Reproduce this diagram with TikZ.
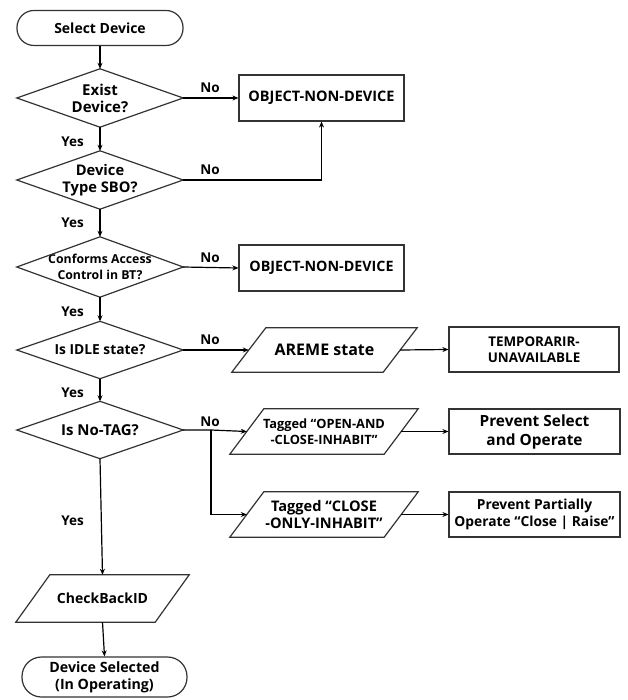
\documentclass[tikz,border=0pt]{standalone}
\usepackage{fontspec}
\setmainfont{Open Sans}
\usetikzlibrary{arrows.meta}

% outline of a decision node: a diamond through the node's four side anchors
\newcommand\diamondpath[1]{\draw[shp] (#1.north) -- (#1.east) -- (#1.south) -- (#1.west) -- cycle;}
% outline of a data node: a parallelogram leaning to the right
\newcommand\parapath[1]{\draw[shp] ([xshift=34pt]#1.north west) -- (#1.north east) -- ([xshift=-34pt]#1.south east) -- (#1.south west) -- cycle;}
\newcommand\fs[2]{\fontsize{#1}{#2}\selectfont}

\begin{document}
\begin{tikzpicture}[x=1pt,y=-1pt,
  every node/.style={font=\bfseries, align=center, inner sep=0pt},
  line/.style={line width=1.2pt, draw=black},
  arr/.style={line, -{Stealth[length=6pt,width=5pt]}},
  shp/.style={line width=1.2pt, draw=black!80},
  term/.style={shp, draw, minimum width=166pt},
  dec/.style={minimum width=166pt, minimum height=58pt},
  procbox/.style={shp, draw, minimum width=165pt, minimum height=46pt},
  outbox/.style={shp, draw, minimum width=171pt, minimum height=45pt},
  databox/.style={minimum width=188pt, minimum height=45pt},
  lbl/.style={font=\bfseries\fs{13.5}{16}},
]
\useasboundingbox (0,0) rectangle (627,700);

% main column
\node[term, minimum height=35pt, rounded corners=17pt, font=\bfseries\fs{14}{17}] (start) at (100,28) {Select Device};
\node[dec, font=\bfseries\fs{15}{17}] (d1) at (100,98) {Exist\\Device?};
\node[dec, font=\bfseries\fs{14.7}{17}] (d2) at (100,180) {Device\\Type SBO?};
\node[dec, minimum height=60pt, font=\bfseries\fs{12.3}{16}] (d3) at (100,267) {Conforms Access\\Control in BT?};
\node[dec, minimum height=57pt, font=\bfseries\fs{13.8}{17}] (d4) at (100,350) {Is IDLE state?};
\node[dec, minimum height=57pt, font=\bfseries\fs{15}{17}] (d5) at (100,430) {Is No-TAG?};
\node[databox, minimum width=173pt, minimum height=47pt, font=\bfseries\fs{14}{17}] (chk) at (102.5,598.5) {CheckBackID};
\node[term, minimum width=165pt, minimum height=40pt, rounded corners=19.5pt, font=\bfseries\fs{14.2}{17}] (done) at (104.5,677) {Device Selected\\(In Operating)};

\foreach \n in {d1,d2,d3,d4,d5} {\diamondpath{\n}}
\parapath{chk}

% right-hand branches
\node[procbox, font=\bfseries\fs{14.5}{17}] (b1) at (321.5,98) {OBJECT-NON-DEVICE};
\node[procbox, font=\bfseries\fs{14.3}{17}] (b2) at (321.5,268) {OBJECT-NON-DEVICE};
\node[databox, minimum width=185pt, minimum height=44pt, font=\bfseries\fs{16}{19}] (p1) at (324.5,350) {AREME state};
\node[outbox, minimum width=170pt, font=\bfseries\fs{13.4}{16.5}] (b3) at (534,349.5) {TEMPORARIR-\\UNAVAILABLE};
\node[databox, font=\bfseries\fs{12.8}{16}] (p2) at (324,431.5) {Tagged “OPEN-AND\\-CLOSE-INHABIT”};
\node[outbox, font=\bfseries\fs{15.4}{19}] (b4) at (534.5,431.5) {Prevent Select\\and Operate};
\node[databox, font=\bfseries\fs{14.6}{17}] (p3) at (324,514.5) {Tagged “CLOSE\\-ONLY-INHABIT”};
\node[outbox, font=\bfseries\fs{13.8}{16.5}] (b5) at (534.5,514.5) {Prevent Partially\\Operate “Close | Raise”};

\foreach \n in {p1,p2,p3} {\parapath{\n}}

% connectors
\draw[arr] (start) -- (d1);
\draw[arr] (d1) -- (d2);
\draw[arr] (d2) -- (d3);
\draw[arr] (d3) -- (d4);
\draw[arr] (d4) -- (d5);
\draw[arr] (d5.south) -- (chk.north);
\draw[arr] (chk.south) -- (done.north);

\draw[arr] (d1.east) -- (b1.west);
\draw[arr] (d2.east) -| (b1.south);
\draw[arr] (d3.east) -- (b2.west);
\draw[arr] (d4.east) -- ([xshift=17pt]p1.west);
\draw[arr] ([xshift=-17pt]p1.east) -- (b3.west);

\coordinate (j) at (211,430);
\draw[arr] (d5.east) -- (j) -- ([xshift=17pt]p2.west);
\draw[arr] (j) |- ([xshift=17pt]p3.west);
\draw[arr] ([xshift=-17pt]p2.east) -- (b4.west);
\draw[arr] ([xshift=-17pt]p3.east) -- (b5.west);

% branch labels
\node[lbl] (n1) at (210,88) {No};
\node[lbl] (n2) at (210,170) {No};
\node[lbl] (n3) at (210,258) {No};
\node[lbl] (n4) at (210,340) {No};
\node[lbl] (n5) at (210,422) {No};
\node[lbl] (y1) at (72.5,142) {Yes};
\node[lbl] (y2) at (72.5,223) {Yes};
\node[lbl] (y3) at (72.5,312) {Yes};
\node[lbl] (y4) at (72.5,393) {Yes};
\node[lbl] (y5) at (72.5,521) {Yes};
\end{tikzpicture}
\end{document}
